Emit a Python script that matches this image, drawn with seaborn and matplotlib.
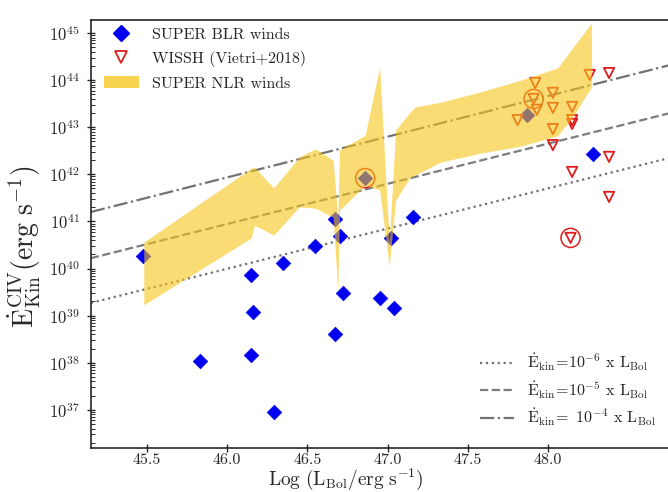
import numpy as np
import pandas as pd
import matplotlib
matplotlib.use("Agg")
import matplotlib.pyplot as plt
import seaborn as sns
from matplotlib.patches import Patch
from matplotlib.lines import Line2D

# ---------------- data (log10 values) ----------------
blr_logL = [45.475, 45.83, 46.15, 46.16, 46.15, 46.35, 46.29, 46.55, 46.67, 46.70,
            46.72, 46.67, 46.95, 47.04, 47.02, 47.16, 46.86, 47.87, 48.28]
blr_logE = [40.27, 38.04, 39.86, 39.08, 38.16, 40.12, 36.95, 40.48, 41.05, 40.69,
            39.48, 38.61, 39.37, 39.16, 40.65, 41.09, 41.92, 43.26, 42.43]

wissh_logL = [47.92, 47.93, 47.91, 47.81, 48.03, 48.03, 48.15, 48.03, 48.15, 48.15,
              48.03, 48.26, 48.38, 48.38, 48.15, 48.38, 48.14]
wissh_logE = [43.94, 43.37, 43.60, 43.15, 43.73, 43.41, 43.43, 42.96, 43.15, 43.07,
              42.62, 44.11, 44.15, 42.37, 42.05, 41.52, 40.65]

circ_logL = [47.91, 48.14, 46.86]
circ_logE = [43.60, 40.65, 41.92]

nlr_logL = [45.48, 46.15, 46.17, 46.29, 46.45, 46.55, 46.66, 46.69, 46.70, 46.86,
            46.95, 47.01, 47.05, 47.14, 47.17, 47.33, 47.58, 47.83, 48.06, 48.15, 48.27]
nlr_low = [39.23, 40.65, 40.92, 40.71, 41.31, 41.28, 41.09, 39.50, 41.24, 41.77,
           41.67, 40.05, 41.45, 41.94, 41.98, 42.26, 42.45, 42.60, 42.82, 43.20, 43.85]
nlr_up = [40.56, 42.13, 42.15, 41.71, 42.37, 42.54, 42.30, 41.05, 42.52, 42.83,
          44.28, 40.55, 42.94, 43.32, 43.43, 43.53, 43.75, 44.00, 44.26, 44.67, 45.21]

ref_logL = [45.15, 48.76]
ref_e6 = [39.27, 42.35]
ref_e5 = [40.22, 43.30]
ref_e4 = [41.20, 44.32]

xticks = [45.5, 46.0, 46.5, 47.0, 47.5, 48.0]

# ---------------- style ----------------
sns.set_style("ticks")
plt.rcParams["font.family"] = "serif"
plt.rcParams["font.serif"] = ["cmr10", "DejaVu Serif"]
plt.rcParams["mathtext.fontset"] = "cm"
plt.rcParams["axes.unicode_minus"] = False
plt.rcParams["axes.formatter.use_mathtext"] = True

fig = plt.figure(figsize=(6.68, 4.92), dpi=100)
ax = fig.add_axes([91 / 668, 1 - 448 / 492, 579 / 668, 428 / 492])

blr = pd.DataFrame({"L": blr_logL, "E": 10 ** np.array(blr_logE)})
wis = pd.DataFrame({"L": wissh_logL, "E": 10 ** np.array(wissh_logE)})
cir = pd.DataFrame({"L": circ_logL, "E": 10 ** np.array(circ_logE)})

red = "#DD1C1C"
band_col = "#F5C518"
blue = "#0000F0"

# reference lines
line_styles = [(ref_e6, ":", "#707070"), (ref_e5, "--", "#7c7c7c"), (ref_e4, "-.", "#727272")]
for vals, ls, col in line_styles:
    sns.lineplot(x=ref_logL, y=10 ** np.array(vals), ax=ax, color=col, linestyle=ls,
                 linewidth=1.6, zorder=1)

sns.scatterplot(data=blr, x="L", y="E", ax=ax, marker="D", s=55, color=blue,
                edgecolor=blue, linewidth=0.5, zorder=2)
sns.scatterplot(data=wis, x="L", y="E", ax=ax, marker="v", s=55, color=red,
                linewidth=1.3, zorder=2)
ax.collections[-1].set_facecolor("none")
ax.collections[-1].set_edgecolor(red)
sns.scatterplot(data=cir, x="L", y="E", ax=ax, marker="o", s=190, color=red,
                linewidth=1.1, zorder=2)
ax.collections[-1].set_facecolor("none")
ax.collections[-1].set_edgecolor(red)

ax.fill_between(nlr_logL, 10 ** np.array(nlr_low), 10 ** np.array(nlr_up),
                color=band_col, alpha=0.6, linewidth=0, zorder=5)

ax.set_yscale("log")
ax.set_xlim(45.151, 48.76)
ax.set_ylim(10 ** 36.19, 10 ** 45.276)
ax.set_xticks(xticks)
ax.set_xticklabels([f"{v:.1f}" for v in xticks])
ax.yaxis.set_major_locator(matplotlib.ticker.LogLocator(base=10, numticks=20))
ax.yaxis.set_minor_locator(matplotlib.ticker.LogLocator(base=10, subs=np.arange(2, 10), numticks=20))
ax.yaxis.set_minor_formatter(matplotlib.ticker.NullFormatter())
ax.tick_params(axis="both", which="major", direction="inout", length=6, width=1, labelsize=12)
ax.tick_params(axis="x", which="major", pad=0.5, labelsize=11.5)
ax.tick_params(axis="y", which="major", pad=5, labelsize=12)
ax.tick_params(axis="y", which="minor", direction="in", length=3, width=0.7)
ax.tick_params(axis="x", which="minor", bottom=False)
for sp in ax.spines.values():
    sp.set_linewidth(1.2)
    sp.set_visible(True)

ax.set_xlabel(r"$\mathrm{Log\ (L_{Bol}/erg\ s^{-1})}$", fontsize=14)
ax.xaxis.set_label_coords(0.44, -0.043)
ax.set_ylabel(r"$\dot{\mathrm{E}}^{\mathrm{CIV}}_{\mathrm{Kin}}(\mathrm{erg\ s^{-1}})$", fontsize=20)
ax.yaxis.set_label_coords(-0.083, 0.47)

h1 = [Line2D([], [], marker="D", color=blue, linestyle="none", markersize=8),
      Line2D([], [], marker="v", markerfacecolor="none", markeredgecolor=red,
             markeredgewidth=1.3, linestyle="none", markersize=8),
      Patch(facecolor=band_col, alpha=0.75, edgecolor="none")]
l1 = ax.legend(h1, ["SUPER BLR winds", "WISSH (Vietri+2018)", "SUPER NLR winds"],
               loc="upper left", frameon=False, fontsize=11.5, handlelength=2.2,
               labelspacing=0.58, borderaxespad=0.4, bbox_to_anchor=(0.0, 1.012))
ax.add_artist(l1)

h2 = [Line2D([], [], color=c, linestyle=ls, linewidth=1.6) for _, ls, c in line_styles]
labs2 = [r"$\dot{\rm E}_{\rm kin}\!=\!10^{-6}$ x $\rm L_{Bol}$",
         r"$\dot{\rm E}_{\rm kin}\!=\!10^{-5}$ x $\rm L_{Bol}$",
         r"$\dot{\rm E}_{\rm kin}\!=$ $10^{-4}$ x $\rm L_{Bol}$"]
ax.legend(h2, labs2, loc="lower right", frameon=False, fontsize=11.5, handlelength=2.1,
          labelspacing=0.38, borderaxespad=0.4, bbox_to_anchor=(0.997, 0.016))

fig.savefig("out.png", dpi=100)
